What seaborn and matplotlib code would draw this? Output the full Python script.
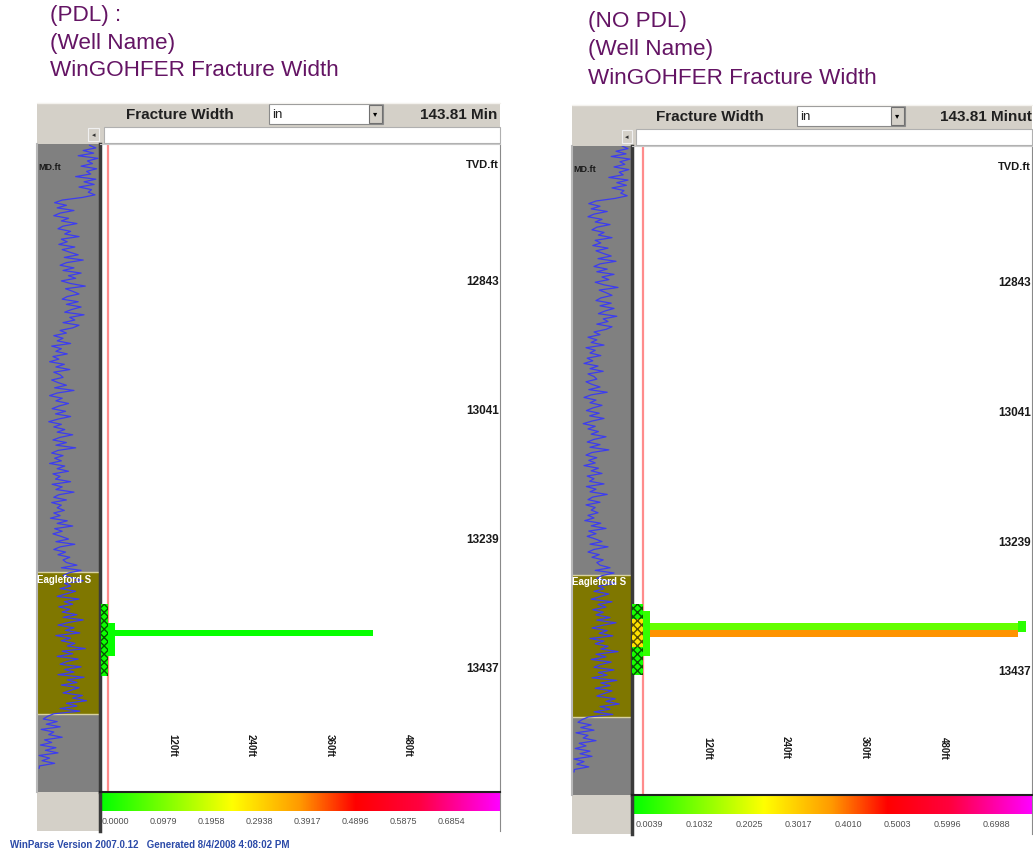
import numpy as np
import pandas as pd
import matplotlib
matplotlib.use("Agg")
import matplotlib.pyplot as plt
import matplotlib.transforms as mtransforms
from matplotlib.colors import LinearSegmentedColormap, Normalize
from matplotlib.patches import Rectangle
import seaborn as sns

W, H = 1033, 854

# ---- values ----
titles_pdl = ["(PDL) :", "(Well Name)", "WinGOHFER Fracture Width"]
titles_nopdl = ["(NO PDL)", "(Well Name)", "WinGOHFER Fracture Width"]
header_value_pdl = "143.81 Min"
header_value_nopdl = "143.81 Minut"

tvd_ticks = [12843, 13041, 13239, 13437]
lateral_ticks = [120, 240, 360, 480]
lateral_labels = ["120ft", "240ft", "360ft", "480ft"]

cbar_ticks_pdl = [0.0000, 0.0979, 0.1958, 0.2938, 0.3917, 0.4896, 0.5875, 0.6854]
cbar_ticks_nopdl = [0.0039, 0.1032, 0.2025, 0.3017, 0.4010, 0.5003, 0.5996, 0.6988]

# gamma ray log in the left track (API), one value every 4 ft
gr_depth = np.arange(12635, 13595, 4)
gr_api = [125, 140, 110, 135, 98, 145, 120, 132, 105, 142,
          118, 128, 92, 140, 112, 136, 100, 130, 122, 138,
          108, 60, 42, 70, 48, 88, 55, 40, 75, 58,
          95, 62, 50, 80, 66, 100, 58, 72, 52, 90,
          60, 78, 98, 65, 110, 70, 55, 88, 62, 105,
          75, 92, 58, 80, 115, 68, 85, 100, 72, 60,
          98, 70, 105, 82, 66, 112, 78, 90, 62, 100,
          85, 55, 70, 40, 62, 48, 80, 35, 58, 45,
          72, 38, 52, 30, 65, 45, 78, 40, 55, 62,
          35, 50, 70, 42, 88, 48, 30, 60, 45, 75,
          52, 36, 68, 44, 80, 50, 28, 58, 40, 66,
          48, 85, 55, 38, 70, 45, 92, 50, 35, 62,
          42, 58, 30, 66, 48, 75, 38, 55, 44, 80,
          36, 60, 45, 88, 52, 40, 70, 35, 58, 48,
          65, 40, 55, 32, 72, 48, 85, 42, 60, 38,
          58, 75, 45, 90, 55, 40, 68, 50, 78, 62,
          70, 95, 58, 105, 75, 62, 88, 110, 66, 80,
          55, 92, 70, 48, 100, 65, 85, 52, 78, 60,
          95, 62, 110, 75, 50, 88, 68, 102, 45, 80,
          58, 90, 72, 115, 60, 85, 48, 98, 70, 55,
          105, 66, 88, 50, 112, 72, 95, 58, 100, 80,
          62, 108, 85, 118, 70, 95, 55, 102, 40, 25,
          15, 48, 22, 55, 10, 40, 28, 60, 18, 35,
          8, 45, 20, 50, 5, 30, 12, 42, 6, 5]

eagleford_top = 13290
eagleford_base = 13507
wellbore_ft = 22.5

# fracture cells: depth top/base (ft TVD), lateral extent (ft), width (in)
frac_pdl_top = [13338, 13367, 13379]
frac_pdl_base = [13449, 13418, 13388]
frac_pdl_from = [12, 22.5, 33]
frac_pdl_to = [22.5, 33, 426]
frac_pdl_width = [0.01, 0.005, 0.005]
frac_pdl_hatch = [True, False, False]

frac_nopdl_top = [13334, 13358, 13345, 13363, 13374, 13360]
frac_nopdl_base = [13443, 13400, 13414, 13374, 13385, 13377]
frac_nopdl_from = [6, 6, 22.5, 33, 33, 593]
frac_nopdl_to = [22.5, 22.5, 33, 593, 593, 605]
frac_nopdl_width = [0.02, 0.30, 0.05, 0.10, 0.40, 0.04]
frac_nopdl_hatch = [True, True, False, False, False, False]

# ---- layout (pixels) ----
lay_pdl = dict(x0=37, xt=100, x1=500, hb_top=104, hb_bot=126, main_top=145,
               main_bot=793, cb_bot=832, title_x=50, title_y=[15, 43, 70],
               fw_cx=180, in_box=(269, 383), small_btn=(88, 99), val_x=420,
               ft_zero=93.3, px_ft=0.656, depth=(12633, 13627),
               cb_range=(-0.0041, 0.8118))
lay_nopdl = dict(x0=572, xt=632, x1=1032, hb_top=106, hb_bot=128, main_top=147,
                 main_bot=796, cb_bot=835, title_x=588, title_y=[22, 50, 78],
                 fw_cx=710, in_box=(797, 905), small_btn=(622, 632), val_x=940,
                 ft_zero=628.0, px_ft=0.658, depth=(12635, 13626),
                 cb_range=(-0.0041, 0.797))

cmap = LinearSegmentedColormap.from_list(
    "gohfer", [(0.0, "#00ff00"), (0.33, "#ffff00"), (0.5, "#ff9900"),
               (0.64, "#ff0000"), (0.8, "#ff0040"), (1.0, "#ff00ff")])

sns.set_style("white")
plt.rcParams["font.family"] = ["Liberation Sans", "DejaVu Sans"]

GRAY = "#d4d0c8"
TRACK = "#808080"


def px_axes(fig, l, t, r, b, **kw):
    return fig.add_axes([l / W, 1 - b / H, (r - l) / W, (b - t) / H], **kw)


def draw_panel(fig, bg, lay, titles, hval, ftop, fbase, ffrom, fto, fwidth, fhatch, cticks):
    # titles
    for txt, ty in zip(titles, lay["title_y"]):
        bg.text(lay["title_x"], ty, txt, fontsize=16.2, color="#641464",
                va="center", ha="left")

    # header rows
    x0, xt, x1 = lay["x0"], lay["xt"], lay["x1"]
    hb_top, hb_bot, mt = lay["hb_top"], lay["hb_bot"], lay["main_top"]
    bg.add_patch(Rectangle((x0, hb_top), x1 - x0, mt - hb_top, fc=GRAY, ec="none"))
    bg.plot([x0, x1], [hb_top, hb_top], color="#f4f2ee", lw=1)
    bg.text(lay["fw_cx"], (hb_top + hb_bot) / 2, "Fracture Width", fontsize=11,
            weight="bold", color="#202020", ha="center", va="center")
    ib0, ib1 = lay["in_box"]
    bg.add_patch(Rectangle((ib0, hb_top + 1), ib1 - ib0, hb_bot - hb_top - 2,
                           fc="white", ec="#8a8a8a", lw=0.8))
    bg.text(ib0 + 3, (hb_top + hb_bot) / 2, "in", fontsize=9.5, color="#202020",
            ha="left", va="center")
    bg.add_patch(Rectangle((ib1 - 14, hb_top + 2), 13, hb_bot - hb_top - 4,
                           fc=GRAY, ec="#707070", lw=0.8))
    bg.text(ib1 - 7.5, (hb_top + hb_bot) / 2, "\u25be", fontsize=6, color="black",
            ha="center", va="center")
    bg.text(lay["val_x"], (hb_top + hb_bot) / 2, hval, fontsize=11, weight="bold",
            color="#202020", ha="left", va="center", clip_on=False)
    sb0, sb1 = lay["small_btn"]
    bg.add_patch(Rectangle((sb0, hb_bot + 3), sb1 - sb0, mt - hb_bot - 6,
                           fc=GRAY, ec="#f0f0f0", lw=0.8))
    bg.text((sb0 + sb1) / 2, (hb_bot + mt) / 2, "\u25c2", fontsize=5,
            color="#303030", ha="center", va="center")
    bg.add_patch(Rectangle((xt + 4, hb_bot + 2), x1 - xt - 4, mt - hb_bot - 3,
                           fc="white", ec="#b0b0b0", lw=0.8))

    # gray box under the track, left of the colour bar
    bg.add_patch(Rectangle((x0, lay["main_bot"]), xt - x0, lay["cb_bot"] - lay["main_bot"],
                           fc=GRAY, ec="none"))

    d_top, d_bot = lay["depth"]

    # ---- log track ----
    trk = px_axes(fig, x0, mt, xt, lay["main_bot"], zorder=2)
    trk.set_facecolor(TRACK)
    trk.axhspan(eagleford_top, eagleford_base, color="#7f7700", lw=0)
    trk.axhline(eagleford_top, color="#d8d2a0", lw=1)
    trk.axhline(eagleford_base, color="#d8d2a0", lw=1)
    gr = pd.DataFrame({"depth": gr_depth, "gr": gr_api})
    sns.lineplot(data=gr, x="gr", y="depth", orient="y", sort=False, estimator=None,
                 ax=trk, color="#3c3cf0", lw=0.9)
    trk.set_xlim(0, 150)
    trk.set_ylim(d_bot, d_top)
    trk.set_xticks([])
    trk.set_yticks([])
    trk.set_xlabel("")
    trk.set_ylabel("")
    for s in ["top", "bottom", "right"]:
        trk.spines[s].set_visible(False)
    trk.spines["left"].set_color("#b8b8b8")
    trk.spines["left"].set_linewidth(1.5)
    trk.text(0.02, 1 - 22 / (lay["main_bot"] - mt), "MD.ft", transform=trk.transAxes,
             fontsize=6.5, weight="bold", color="#1a1a1a", ha="left", va="center")
    trk.text(1, eagleford_top + 2, "Eagleford S", fontsize=7, weight="bold",
             color="white", ha="left", va="top", clip_on=True)

    # ---- fracture width section ----
    ax = px_axes(fig, xt, mt, x1, lay["main_bot"], zorder=2)
    ax.set_facecolor("white")
    xl = ((xt - lay["ft_zero"]) / lay["px_ft"], (x1 - lay["ft_zero"]) / lay["px_ft"])
    ax.set_xlim(*xl)
    ax.set_ylim(d_bot, d_top)
    norm = Normalize(*lay["cb_range"])
    ax.axvline(wellbore_ft, color="#ff8c8c", lw=1.6, zorder=1)
    for t, b, f0, f1, wv, hatch in zip(ftop, fbase, ffrom, fto, fwidth, fhatch):
        col = cmap(norm(wv))
        if hatch:
            dark = tuple(c * 0.35 for c in col[:3])
            ax.barh((t + b) / 2, f1 - f0, height=b - t, left=f0, color=col,
                    hatch="xxxx", edgecolor=dark, lw=0, zorder=3)
        else:
            ax.barh((t + b) / 2, f1 - f0, height=b - t, left=f0, color=col,
                    lw=0, zorder=4)
    ax.set_xticks([])
    ax.set_yticks([])
    ax.spines["left"].set_color("#3a3a3a")
    ax.spines["left"].set_linewidth(2.5)
    ax.spines["right"].set_color("#8a8a8a")
    ax.spines["top"].set_color("#c8c8c8")
    ax.spines["bottom"].set_visible(False)
    trans = mtransforms.blended_transform_factory(ax.transAxes, ax.transData)
    ax.text(0.998, 1 - 20 / (lay["main_bot"] - mt), "TVD.ft", transform=ax.transAxes,
            fontsize=8, weight="bold", color="#1a1a1a", ha="right", va="center")
    for tv in tvd_ticks:
        ax.text(0.998, tv, str(tv), transform=trans, fontsize=8.5, weight="bold",
                color="#1a1a1a", ha="right", va="center")
    for xv, lab in zip(lateral_ticks, lateral_labels):
        ax.text(xv, d_bot - 48 * 1.53, lab, rotation=-90, fontsize=7, weight="bold",
                color="#1a1a1a", ha="center", va="center")

    # ---- colour bar ----
    cb = px_axes(fig, xt, lay["main_bot"], x1, lay["cb_bot"], zorder=2)
    lo, hi = lay["cb_range"]
    cb.imshow(np.linspace(0, 1, 512)[None, :], extent=[lo, hi, 0.51, 1.0],
              aspect="auto", cmap=cmap, interpolation="bilinear")
    cb.set_xlim(lo, hi)
    cb.set_ylim(0, 1)
    cb.set_xticks([])
    cb.set_yticks([])
    for tv in cticks:
        cb.text(tv, 0.27, f"{tv:.4f}", fontsize=6.5, color="#505050",
                ha="left", va="center")
    cb.spines["top"].set_color("#202020")
    cb.spines["top"].set_linewidth(1.5)
    cb.spines["left"].set_color("#3a3a3a")
    cb.spines["left"].set_linewidth(2.5)
    cb.spines["right"].set_color("#8a8a8a")
    cb.spines["bottom"].set_visible(False)


fig = plt.figure(figsize=(W / 100, H / 100), dpi=100)
bg = fig.add_axes([0, 0, 1, 1], zorder=0)
bg.set_xlim(0, W)
bg.set_ylim(H, 0)
bg.axis("off")

draw_panel(fig, bg, lay_pdl, titles_pdl, header_value_pdl, frac_pdl_top, frac_pdl_base,
           frac_pdl_from, frac_pdl_to, frac_pdl_width, frac_pdl_hatch, cbar_ticks_pdl)
draw_panel(fig, bg, lay_nopdl, titles_nopdl, header_value_nopdl, frac_nopdl_top,
           frac_nopdl_base, frac_nopdl_from, frac_nopdl_to, frac_nopdl_width,
           frac_nopdl_hatch, cbar_ticks_nopdl)

bg.text(10, 845, "WinParse Version 2007.0.12   Generated 8/4/2008 4:08:02 PM",
        fontsize=7, weight="bold", color="#2b4aa8", ha="left", va="center")

fig.savefig("out.png", dpi=100)
